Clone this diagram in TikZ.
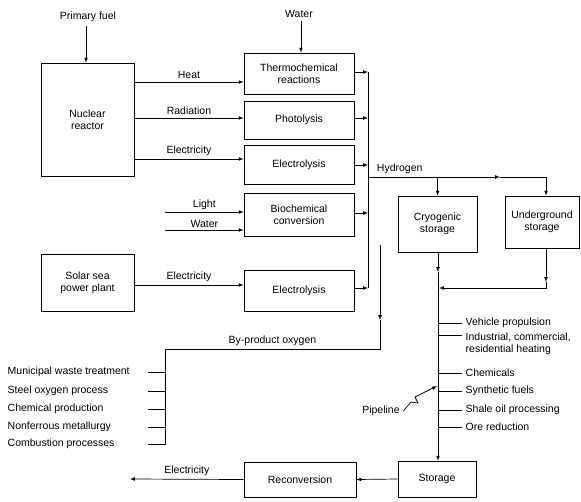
\documentclass[tikz,border=0pt]{standalone}
\usepackage{fontspec}
\setmainfont{Liberation Sans}
\usepackage{tikz}
\usetikzlibrary{arrows}
\usetikzlibrary{positioning}

\begin{document}
\begin{tikzpicture}[x=1pt,y=-1pt,line width=0.7pt,>=latex,
    every node/.style={font=\fontsize{10.5}{12.5}\selectfont},
    box/.style={draw, align=center, inner sep=2pt}]
            \useasboundingbox (0,0) rectangle (581,501);

            % sources and converters
            \node[box, minimum width=93, minimum height=113] (nuc) at (87.5,119.5) {Nuclear\\reactor};
            \node[box, minimum width=93, minimum height=57] (solar) at (87.5,283) {Solar sea\\power plant};
            \node[box, minimum width=110, minimum height=41] (thermo) at (299,73.5) {Thermochemical\\reactions};
            \node[box, minimum width=110, minimum height=38] (photo) at (299,120) {Photolysis};
            \node[box, minimum width=110, minimum height=39] (elec1) at (299,165) {Electrolysis};
            \node[box, minimum width=110, minimum height=43] (bio) at (299,214.5) {Biochemical\\conversion};
            \node[box, minimum width=110, minimum height=41] (elec2) at (299,291) {Electrolysis};

            % storage
            \node[box, minimum width=79, minimum height=56] (cryo) at (437.5,224) {Cryogenic\\storage};
            \node[box, minimum width=74, minimum height=52] (under) at (542,222) {Underground\\storage};
            \node[box, minimum width=78, minimum height=36] (stor) at (437,479) {Storage};
            \node[box, minimum width=112, minimum height=35] (recon) at (300,479.5) {Reconversion};

            \node (pf) at (88,17) {Primary fuel};
            \node (water) at (299,14) {Water};
            \node (pipe) at (381,411) {Pipeline};

            \draw[->] (pf.south -| 86,0) -- (nuc.north -| 86,0);
            \draw[->] (water.south -| 301,0) -- (thermo.north -| 301,0);

            \draw[->] (nuc.east |- 0,82) -- node[above]{Heat} (thermo.west |- 0,82);
            \draw[->] (nuc.east |- 0,118) -- node[above]{Radiation} (photo.west |- 0,118);
            \draw[->] (nuc.east |- 0,159) -- node[above]{Electricity} (elec1.west |- 0,159);
            \draw[->] (solar.east |- 0,285) -- node[above]{Electricity} (elec2.west |- 0,285);

            \coordinate (light) at (165,212);
            \coordinate (wat) at (165,230);
            \draw[->] (light) -- node[above=-1pt]{Light} (bio.west |- light);
            \draw[->] (wat) -- node[above=-1pt]{Water} (bio.west |- wat);

            % hydrogen collector
            \coordinate (trTop) at (368,72);
            \coordinate (trBot) at (368,288);
            \draw (trTop) -- (trBot);
            \foreach \b/\y in {thermo/72,photo/118,elec1/165,bio/213,elec2/288}
                \draw[->] (\b.east |- 0,\y) -- (trTop |- 0,\y);

            \coordinate (h0) at (368,177);
            \coordinate (ha) at (500,177);
            \coordinate (h1) at (546,177);
            \draw[->] (h0) -- node[pos=0.24, above]{Hydrogen} (ha);
            \draw (ha) -- (h1);
            \draw[->] (cryo.north |- h0) -- (cryo.north);
            \draw[->] (h1) -- (under.north -| h1);

            \coordinate (ca) at (438,272);
            \coordinate (ua) at (546,282);
            \coordinate (uj) at (546,288);
            \coordinate (cj) at (439,288);
            \draw[->] (cryo.south -| ca) -- (ca);
            \draw[->] (ca) -- (stor.north -| ca);
            \draw[->] (under.south -| ua) -- (ua);
            \draw[->] (ua) -- (uj) -- (cj);

            % end uses
            \node[anchor=west, align=left] (u2) at (462,344) {Industrial, commercial,\\residential heating};
            \coordinate (u2-b) at (438,335);
            \draw (u2-b) -- (u2-b -| u2.west);
            \foreach \n/\y/\t in {u1/323/{Vehicle propulsion}, u3/373/{Chemicals},
                    u4/391/{Synthetic fuels}, u5/410/{Shale oil processing}, u6/427/{Ore reduction}} {
                \node[anchor=west] (\n) at (462,\y) {\t};
                \coordinate (\n-b) at (438,\y);
                \draw (\n-b) -- (\n.west);
            }
            \coordinate (pipeTip) at (437,386);
            \draw[->] (pipe.east) -- (411,402) -- (418,403) -- (415,397) -- (pipeTip);

            % by-product oxygen
            \coordinate (ox0) at (380,245);
            \coordinate (oxa) at (380,320);
            \coordinate (ox1) at (380,349);
            \coordinate (ox2) at (165,349);
            \coordinate (ox3) at (165,445);
            \draw[->] (ox0) -- (oxa);
            \draw (oxa) -- (ox1) -- node[above]{By-product oxygen} (ox2) -- (ox3);
            \foreach \n/\y/\t in {o1/372/{Municipal waste treatment}, o2/391/{Steel oxygen process},
                    o3/409/{Chemical production}, o4/427/{Nonferrous metallurgy}, o5/444/{Combustion processes}} {
                \node[anchor=west] (\n) at (4,\y) {\t};
                \coordinate (\n-b) at (148,\y);
                \draw (\n-b) -- (ox2 |- \n-b);
            }

            % reconversion
            \coordinate (eOut) at (130,479);
            \draw[->] (stor.west) -- (recon.east);
            \draw[->] (recon.west) -- node[above]{Electricity} (eOut);
        \end{tikzpicture}
\end{document}
